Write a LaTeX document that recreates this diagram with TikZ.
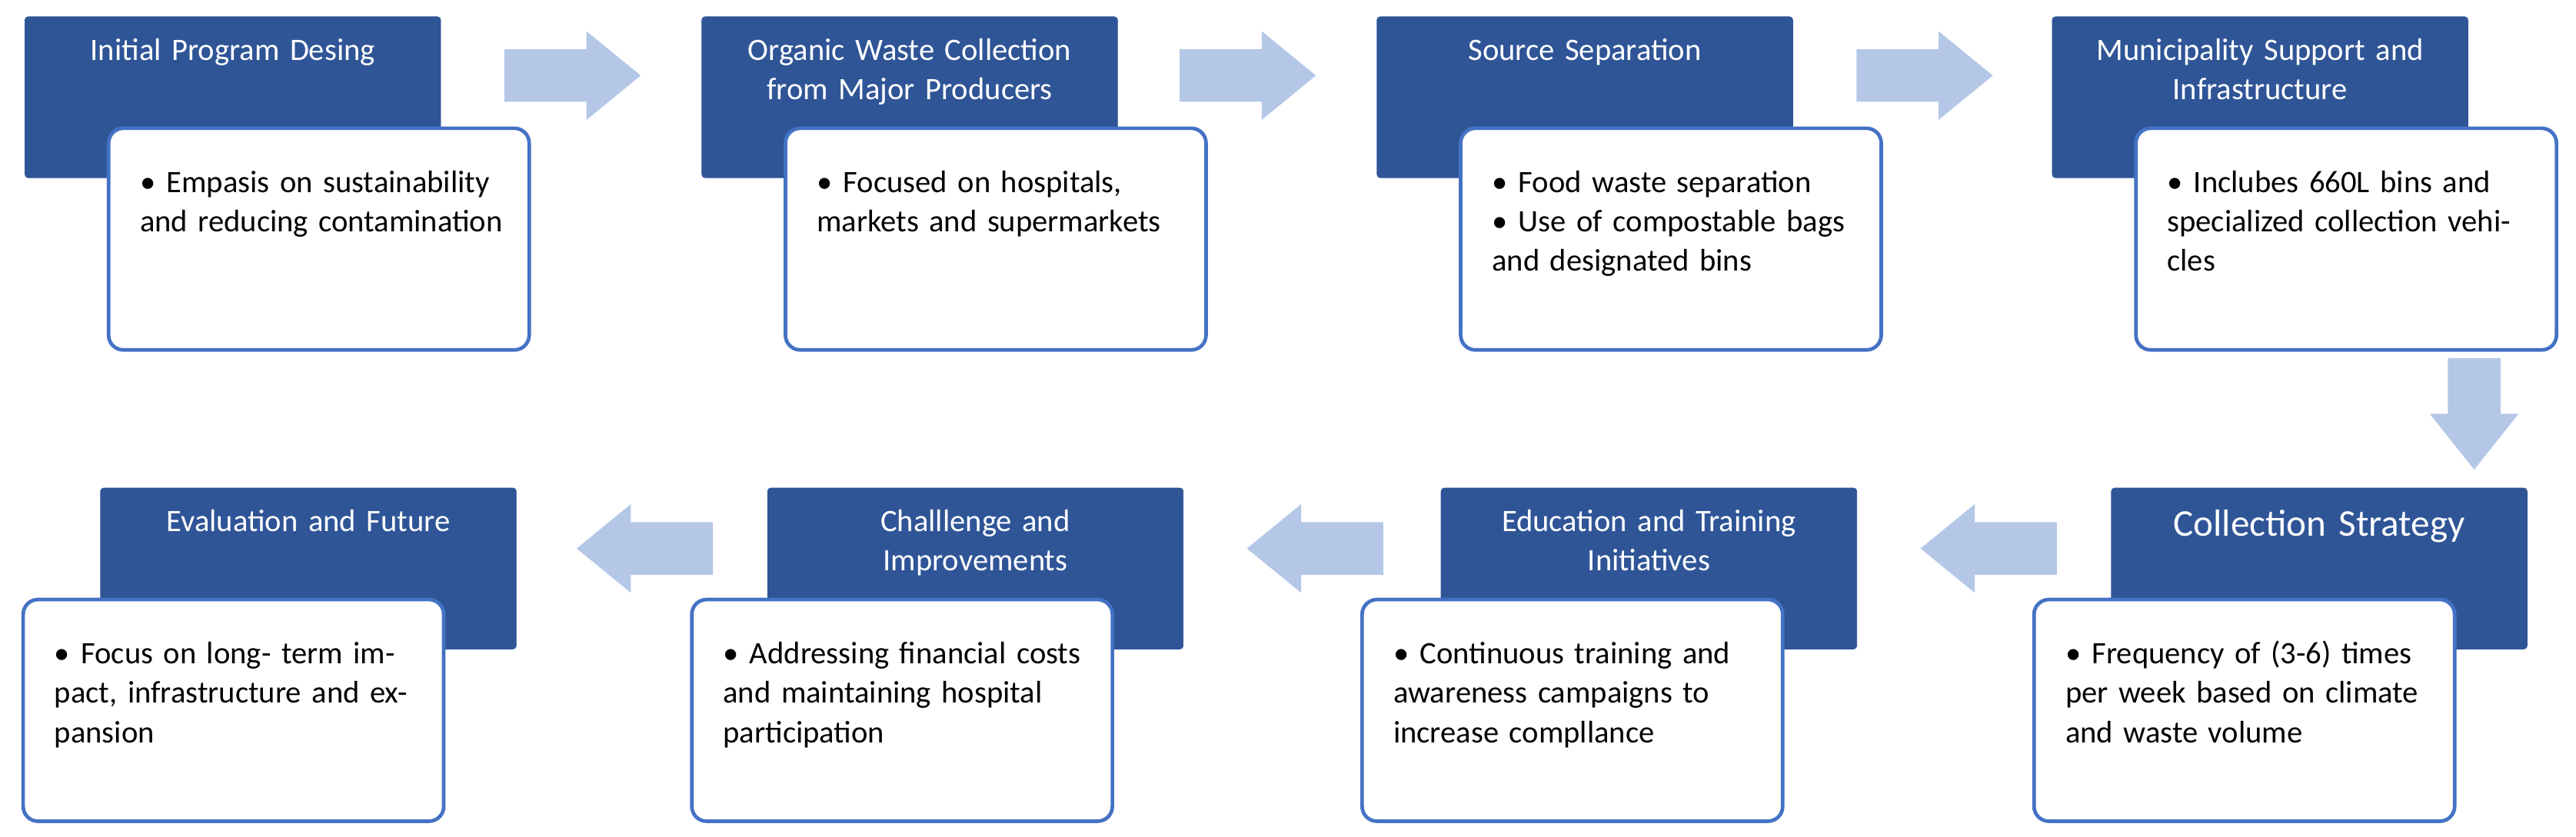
\documentclass[tikz,border=0pt]{standalone}
\usepackage{fontspec}
\setmainfont{Carlito}
\definecolor{hdr}{HTML}{2F5597}
\definecolor{bord}{HTML}{4472C4}
\definecolor{arr}{HTML}{B4C7E7}
\newcommand{\bul}[1]{\par\noindent\hangindent=0.85em\hangafter=1\makebox[0.85em][l]{\textbullet}#1}
\newcommand{\blk}[8]{%
  \node[hdrbox,anchor=north west] (#1h) at (#2,#3) {};
  \node[anchor=north,text=white,align=center,text width=250pt,font=\fontsize{#8}{24}\selectfont] (#1t) at ([yshift=-10pt]#1h.north) {#6};
  \node[wbox,anchor=north west] (#1w) at (#4,#5) {};
  \node[anchor=north west,text width=225pt,font=\fontsize{19}{24}\selectfont,inner sep=0pt] (#1b) at ([xshift=20pt,yshift=-16pt]#1w.north west) {#7};
}
\begin{document}
\begin{tikzpicture}[x=1pt,y=-1pt,
  hdrbox/.style={fill=hdr,draw=hdr,rounded corners=2pt,minimum width=253pt,minimum height=98pt,inner sep=0pt},
  wbox/.style={fill=white,draw=bord,line width=2.2pt,rounded corners=9pt,minimum width=256pt,minimum height=135pt,inner sep=0pt},
  arrsh/.style={fill=arr,draw=none}]
\useasboundingbox (0,0) rectangle (1568,509.3);
% top row
\blk{a}{15}{10}{65}{77}{Initial Program Desing}{\bul{Empasis on sustainability and reducing contamination}}{19}
\blk{b}{427}{10}{477}{77}{Organic Waste Collection\\from Major Producers}{\bul{Focused on hospitals, markets and supermarkets}}{19}
\blk{c}{838}{10}{888}{77}{Source Separation}{\bul{Food waste separation}\bul{Use of compostable bags and designated bins}}{19}
\blk{d}{1249}{10}{1299}{77}{Municipality Support and\\Infrastructure}{\bul{Inclubes 660L bins and specialized collection vehicles}}{19}
% bottom row
\blk{e}{1285}{297}{1237}{364}{Collection Strategy}{\bul{Frequency of (3-6) times per week based on climate and waste volume}}{23}
\blk{f}{877}{297}{828}{364}{Education and Training\\Initiatives}{\bul{Continuous training and awareness campaigns to increase compllance}}{19}
\blk{g}{467}{297}{420}{364}{Challlenge and\\Improvements}{\bul{Addressing financial costs and maintaining hospital participation}}{19}
\blk{h}{61}{297}{13}{364}{Evaluation and Future}{\bul{Focus on long- term impact, infrastructure and expansion}}{19}
% arrows right
\foreach \x in {307,718,1130}{
  \fill[arrsh] (\x,30) -- (\x+50,30) -- (\x+50,19) -- (\x+83,46) -- (\x+50,73) -- (\x+50,62) -- (\x,62) -- cycle;
}
% arrow down
\fill[arrsh] (1490,218) -- (1522,218) -- (1522,252) -- (1533,252) -- (1506,286) -- (1479,252) -- (1490,252) -- cycle;
% arrows left
\foreach \x in {1252,842,434}{
  \fill[arrsh] (\x,318) -- (\x-50,318) -- (\x-50,307) -- (\x-83,334) -- (\x-50,361) -- (\x-50,350) -- (\x,350) -- cycle;
}
\end{tikzpicture}
\end{document}
